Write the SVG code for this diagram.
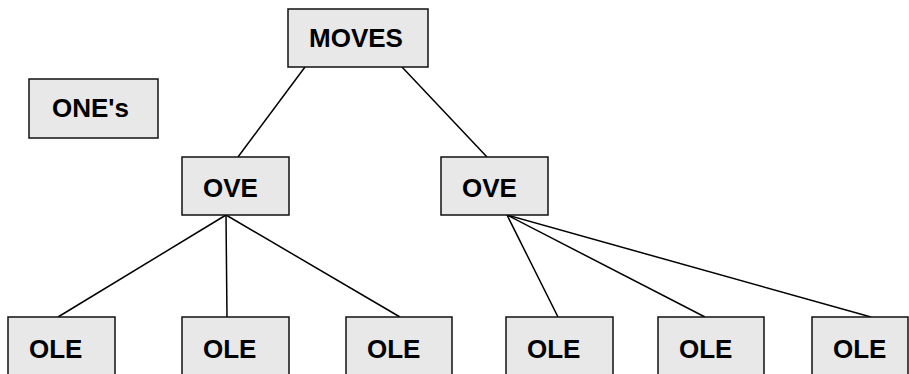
<svg xmlns="http://www.w3.org/2000/svg" width="909" height="374" viewBox="0 0 909 374">
  <style>
    .box { fill: #e8e8e8; stroke: #111; stroke-width: 1.5; }
    .lbl { font-family: "Liberation Sans", Arial, sans-serif; font-weight: bold; font-size: 26px; fill: #000; }
    .edge { stroke: #000; stroke-width: 1.5; fill: none; }
  </style>
  <rect width="909" height="374" fill="#fff"/>

  <!-- connectors -->
  <g id="edges">
    <line class="edge" x1="305" y1="67" x2="238" y2="157"/>
    <line class="edge" x1="402" y1="67" x2="487" y2="157"/>
    <line class="edge" x1="226" y1="215" x2="58" y2="317"/>
    <line class="edge" x1="226" y1="215" x2="227" y2="317"/>
    <line class="edge" x1="226" y1="215" x2="400" y2="317"/>
    <line class="edge" x1="507" y1="215" x2="558" y2="317"/>
    <line class="edge" x1="507" y1="215" x2="705" y2="317"/>
    <line class="edge" x1="507" y1="215" x2="871" y2="317"/>
  </g>

  <!-- nodes -->
  <g id="moves">
    <rect class="box" x="288" y="9" width="140" height="58"/>
    <text class="lbl" x="309" y="47">MOVES</text>
  </g>
  <g id="ones">
    <rect class="box" x="29" y="79" width="129" height="59"/>
    <text class="lbl" x="52" y="117">ONE's</text>
  </g>
  <g id="ove-left">
    <rect class="box" x="182" y="157" width="107" height="58"/>
    <text class="lbl" x="203" y="197">OVE</text>
  </g>
  <g id="ove-right">
    <rect class="box" x="441" y="157" width="107" height="58"/>
    <text class="lbl" x="462" y="197">OVE</text>
  </g>
  <g id="ole-1">
    <rect class="box" x="8" y="317" width="107" height="60"/>
    <text class="lbl" x="29" y="358">OLE</text>
  </g>
  <g id="ole-2">
    <rect class="box" x="182" y="317" width="107" height="60"/>
    <text class="lbl" x="203" y="358">OLE</text>
  </g>
  <g id="ole-3">
    <rect class="box" x="346" y="317" width="106" height="60"/>
    <text class="lbl" x="367" y="358">OLE</text>
  </g>
  <g id="ole-4">
    <rect class="box" x="506" y="317" width="107" height="60"/>
    <text class="lbl" x="527" y="358">OLE</text>
  </g>
  <g id="ole-5">
    <rect class="box" x="658" y="317" width="106" height="60"/>
    <text class="lbl" x="679" y="358">OLE</text>
  </g>
  <g id="ole-6">
    <rect class="box" x="812" y="317" width="96" height="60"/>
    <text class="lbl" x="833" y="358">OLE</text>
  </g>
</svg>
